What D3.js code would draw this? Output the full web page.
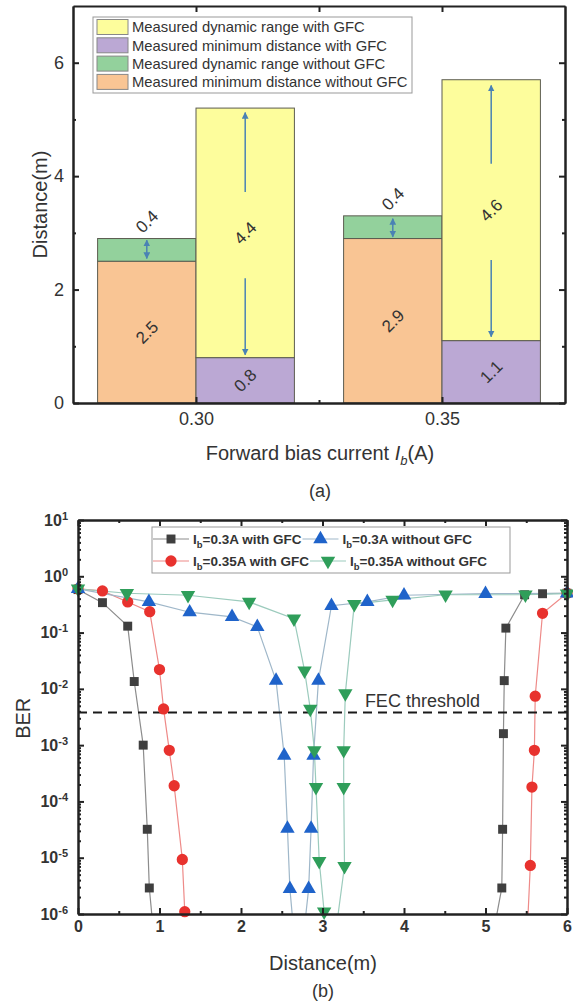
<!DOCTYPE html>
<html lang="en">
<head>
    <meta charset="UTF-8">
    <title>GFC distance and BER</title>
    <script src="https://cdnjs.cloudflare.com/ajax/libs/d3/7.8.5/d3.min.js"></script>
    <style>
        body { margin: 0; background: #fff; }
        svg { display: block; font-family: Arial, "Liberation Sans", sans-serif; }
    </style>
</head>
<body>
<svg id="chart" width="573" height="1003"></svg>

<script>
    // ---- (a) measured distances ----
    const currents = [0.30, 0.35];
    const currentTicks = ["0.30", "0.35"];
    const minDistNoGfc = [2.5, 2.9];
    const rangeNoGfc = [0.4, 0.4];
    const minDistGfc = [0.8, 1.1];
    const rangeGfc = [4.4, 4.6];
    const barLegend = [
        "Measured dynamic range with GFC",
        "Measured minimum distance with GFC",
        "Measured dynamic range without GFC",
        "Measured minimum distance without GFC"
    ];
    const barColors = ["#fdfd9c", "#bba8d4", "#93d19c", "#f9c594"];
    // arrow spans [from, to] in metres
    const arrowsNoGfc = [[2.55, 2.87], [2.93, 3.25]];
    const arrowsGfcUp = [[3.72, 5.12], [4.22, 5.6]];
    const arrowsGfcDown = [[2.2, 0.85], [2.52, 1.17]];

    // ---- (b) BER vs distance, [distance, BER]; 1e-7 = below axis (error free) ----
    const berLabels = ["=0.3A with GFC", "=0.3A without GFC", "=0.35A with GFC", "=0.35A without GFC"];
    const ber03Gfc = [[0, 0.58], [0.30, 0.34], [0.61, 0.13], [0.69, 0.0135], [0.80, 1e-3], [0.85, 3.2e-5],
        [0.875, 2.9e-6], [0.97, 1e-7], [5.01, 1e-7], [5.2, 2.9e-6], [5.21, 3.2e-5], [5.22, 1.6e-3],
        [5.23, 0.014], [5.25, 0.12], [5.48, 0.47], [5.70, 0.49], [6.0, 0.5]];
    const ber035Gfc = [[0, 0.6], [0.30, 0.55], [0.61, 0.35], [0.88, 0.235], [1.0, 0.022], [1.05, 4.4e-3],
        [1.12, 8.1e-4], [1.18, 1.9e-4], [1.28, 9.3e-6], [1.31, 1.1e-6], [1.33, 1e-7], [5.49, 1e-7],
        [5.55, 7.3e-6], [5.57, 1.8e-4], [5.6, 8.1e-4], [5.61, 7.4e-3], [5.70, 0.22], [6.0, 0.5]];
    const ber03NoGfc = [[0, 0.6], [0.87, 0.35], [1.37, 0.23], [1.89, 0.19], [2.20, 0.126], [2.43, 0.014],
        [2.53, 6.5e-4], [2.57, 3.3e-5], [2.60, 2.8e-6], [2.69, 1e-7], [2.72, 1e-7], [2.83, 2.8e-6],
        [2.86, 3.3e-5], [2.89, 6.5e-4], [2.95, 0.014], [3.11, 0.3], [3.55, 0.35], [4.0, 0.46],
        [5.0, 0.49], [6.0, 0.5]];
    const ber035NoGfc = [[0, 0.6], [0.60, 0.5], [1.35, 0.46], [2.10, 0.35], [2.65, 0.177], [2.78, 0.021],
        [2.85, 4.4e-3], [2.90, 8.1e-4], [2.92, 1.8e-4], [2.96, 8.7e-6], [3.02, 1.1e-6], [3.05, 1e-7],
        [3.10, 1e-7], [3.27, 7.1e-6], [3.26, 1.8e-4], [3.26, 8.1e-4], [3.28, 8.3e-3], [3.39, 0.32],
        [3.86, 0.38], [4.51, 0.47], [5.49, 0.47], [6.0, 0.49]];
    const fecThreshold = 3.8e-3;

    const svg = d3.select("#chart");
    const textColor = "#333";
    const arrowColor = "#4a82b4";

    svg.append("defs").append("marker")
        .attr("id", "head")
        .attr("viewBox", "0 0 10 10")
        .attr("refX", 9).attr("refY", 5)
        .attr("markerWidth", 4.5).attr("markerHeight", 4.5)
        .attr("orient", "auto-start-reverse")
        .append("path")
        .attr("d", "M0,0 L10,5 L0,10 z")
        .attr("fill", arrowColor);

    // ================= (a) =================
    const xA = d3.scaleLinear().domain([0.275, 0.375]).range([73, 565]);
    const yA = d3.scaleLinear().domain([0, 7]).range([403, 6]);
    const barW = 0.02;

    const topChart = svg.append("g");

    const stacks = [];
    currents.forEach((c, i) => {
        stacks.push({x0: c - barW, y0: 0, y1: minDistNoGfc[i], color: barColors[3]});
        stacks.push({x0: c - barW, y0: minDistNoGfc[i], y1: minDistNoGfc[i] + rangeNoGfc[i], color: barColors[2]});
        stacks.push({x0: c, y0: 0, y1: minDistGfc[i], color: barColors[1]});
        stacks.push({x0: c, y0: minDistGfc[i], y1: minDistGfc[i] + rangeGfc[i], color: barColors[0]});
    });

    topChart.selectAll("rect.bar")
        .data(stacks)
        .enter()
        .append("rect")
        .attr("class", "bar")
        .attr("x", d => xA(d.x0))
        .attr("width", xA(barW) - xA(0))
        .attr("y", d => yA(d.y1))
        .attr("height", d => yA(d.y0) - yA(d.y1))
        .attr("fill", d => d.color)
        .attr("stroke", "#5c5c50")
        .attr("stroke-width", 1);

    // rotated value labels
    const valueLabels = [];
    currents.forEach((c, i) => {
        valueLabels.push({x: c - barW / 2, y: minDistNoGfc[i] / 2, t: minDistNoGfc[i]});
        valueLabels.push({x: c - barW / 2, y: minDistNoGfc[i] + rangeNoGfc[i] + 0.3, t: rangeNoGfc[i]});
        valueLabels.push({x: c + barW / 2, y: minDistGfc[i] / 2, t: minDistGfc[i]});
        valueLabels.push({x: c + barW / 2, y: minDistGfc[i] + rangeGfc[i] / 2, t: rangeGfc[i]});
    });

    topChart.selectAll("text.val")
        .data(valueLabels)
        .enter()
        .append("text")
        .attr("class", "val")
        .attr("transform", d => `translate(${xA(d.x)},${yA(d.y)}) rotate(-45)`)
        .attr("text-anchor", "middle")
        .attr("dy", "0.35em")
        .attr("font-size", 17)
        .attr("fill", textColor)
        .text(d => d.t);

    // arrows
    const arrowData = [];
    currents.forEach((c, i) => {
        arrowData.push({x: c - barW / 2, from: arrowsNoGfc[i][0], to: arrowsNoGfc[i][1], both: true});
        arrowData.push({x: c + barW / 2, from: arrowsGfcUp[i][0], to: arrowsGfcUp[i][1], both: false});
        arrowData.push({x: c + barW / 2, from: arrowsGfcDown[i][0], to: arrowsGfcDown[i][1], both: false});
    });

    topChart.selectAll("line.arrow")
        .data(arrowData)
        .enter()
        .append("line")
        .attr("class", "arrow")
        .attr("x1", d => xA(d.x)).attr("x2", d => xA(d.x))
        .attr("y1", d => yA(d.from)).attr("y2", d => yA(d.to))
        .attr("stroke", arrowColor)
        .attr("stroke-width", 1.5)
        .attr("marker-end", "url(#head)")
        .attr("marker-start", d => d.both ? "url(#head)" : null);

    // axes, ticks pointing in
    topChart.append("g")
        .attr("transform", `translate(0,${yA(0)})`)
        .call(d3.axisBottom(xA).tickValues(currents).tickFormat((d, i) => currentTicks[i])
            .tickSizeInner(-6).tickSizeOuter(0).tickPadding(9))
        .call(g => g.append("g").call(d3.axisBottom(xA).tickValues([0.325]).tickFormat("").tickSizeInner(-3).tickSizeOuter(0)));
    topChart.append("g")
        .attr("transform", `translate(0,${yA(7)})`)
        .call(d3.axisTop(xA).tickValues([0.30, 0.325, 0.35]).tickFormat("").tickSizeInner(-6).tickSizeOuter(0));
    topChart.append("g")
        .attr("transform", `translate(${xA(0.275)},0)`)
        .call(d3.axisLeft(yA).tickValues([0, 2, 4, 6]).tickFormat(d3.format("d"))
            .tickSizeInner(-6).tickSizeOuter(0).tickPadding(9))
        .call(g => g.append("g").call(d3.axisLeft(yA).tickValues([1, 3, 5]).tickFormat("").tickSizeInner(-3).tickSizeOuter(0)));
    topChart.append("g")
        .attr("transform", `translate(${xA(0.375)},0)`)
        .call(d3.axisRight(yA).tickValues([0, 2, 4, 6]).tickFormat("").tickSizeInner(-6).tickSizeOuter(0))
        .call(g => g.append("g").call(d3.axisRight(yA).tickValues([1, 3, 5]).tickFormat("").tickSizeInner(-3).tickSizeOuter(0)));

    topChart.selectAll(".domain, .tick line").attr("stroke", "#222").attr("stroke-width", 2);
    topChart.selectAll(".tick text").attr("font-size", 18).attr("fill", textColor).attr("font-family", "Arial, Liberation Sans, sans-serif");

    // legend (a)
    const legA = topChart.append("g");
    legA.append("rect")
        .attr("x", 93).attr("y", 17).attr("width", 319).attr("height", 76)
        .attr("fill", "#fff").attr("stroke", "#999");
    const legARows = legA.selectAll("g.row")
        .data(barLegend)
        .enter()
        .append("g")
        .attr("class", "row")
        .attr("transform", (d, i) => `translate(97,${27 + i * 18.3})`);
    legARows.append("rect")
        .attr("x", 0).attr("y", -7.5).attr("width", 31).attr("height", 15)
        .attr("fill", (d, i) => barColors[i]).attr("stroke", "#888");
    legARows.append("text")
        .attr("x", 35).attr("dy", "0.36em")
        .attr("font-size", 14.8)
        .attr("fill", textColor)
        .text(d => d);

    topChart.append("text")
        .attr("transform", `translate(40,${yA(3.5)}) rotate(-90)`)
        .attr("text-anchor", "middle").attr("dy", "0.35em")
        .attr("font-size", 20).attr("fill", textColor)
        .text("Distance(m)");
    const xTitleA = topChart.append("text")
        .attr("x", 320).attr("y", 460)
        .attr("text-anchor", "middle")
        .attr("font-size", 20).attr("fill", textColor);
    xTitleA.append("tspan").text("Forward bias current ");
    xTitleA.append("tspan").attr("font-style", "italic").text("I");
    xTitleA.append("tspan").attr("font-style", "italic").attr("font-size", 13).attr("dy", 5).text("b");
    xTitleA.append("tspan").attr("dy", -5).text("(A)");
    topChart.append("text")
        .attr("x", 320).attr("y", 497)
        .attr("text-anchor", "middle")
        .attr("font-size", 18).attr("fill", textColor)
        .text("(a)");

    // ================= (b) =================
    const xB = d3.scaleLinear().domain([0, 6]).range([78, 567]);
    const yB = d3.scaleLog().domain([1e-6, 10]).range([914, 520]);
    const bottomChart = svg.append("g");

    const seriesB = [
        {data: ber03Gfc, line: "#8c8c8c", fill: "#3f3f3f", symbol: d3.symbolSquare, size: 80, rot: 0, label: berLabels[0]},
        {data: ber035Gfc, line: "#ee8a88", fill: "#e8322e", symbol: d3.symbolCircle, size: 100, rot: 0, label: berLabels[2]},
        {data: ber03NoGfc, line: "#9fb7c9", fill: "#1f63ca", symbol: d3.symbolTriangle, size: 90, rot: 0, label: berLabels[1]},
        {data: ber035NoGfc, line: "#9ccbbd", fill: "#2f9e5a", symbol: d3.symbolTriangle, size: 90, rot: 180, label: berLabels[3]}
    ];

    bottomChart.append("clipPath").attr("id", "plotB")
        .append("rect")
        .attr("x", xB(0)).attr("y", yB(10))
        .attr("width", xB(6) - xB(0)).attr("height", yB(1e-6) - yB(10));

    const lineB = d3.line().x(d => xB(d[0])).y(d => yB(d[1]));

    bottomChart.append("g").attr("clip-path", "url(#plotB)")
        .selectAll("path.series")
        .data(seriesB)
        .enter()
        .append("path")
        .attr("class", "series")
        .attr("d", s => lineB(s.data))
        .attr("fill", "none")
        .attr("stroke", s => s.line)
        .attr("stroke-width", 1.2);

    // FEC threshold
    bottomChart.append("line")
        .attr("x1", xB(0)).attr("x2", xB(6))
        .attr("y1", yB(fecThreshold)).attr("y2", yB(fecThreshold))
        .attr("stroke", "#1a1a1a").attr("stroke-width", 2.2)
        .attr("stroke-dasharray", "9,6");
    bottomChart.append("text")
        .attr("x", xB(3.52)).attr("y", yB(fecThreshold) - 6)
        .attr("font-size", 18).attr("fill", textColor)
        .text("FEC threshold");

    seriesB.forEach(s => {
        bottomChart.append("g")
            .selectAll("path.mk")
            .data(s.data.filter(d => d[1] >= 1e-6))
            .enter()
            .append("path")
            .attr("class", "mk")
            .attr("d", d3.symbol().type(s.symbol).size(s.size))
            .attr("transform", d => `translate(${xB(d[0])},${yB(d[1])}) rotate(${s.rot})`)
            .attr("fill", s.fill);
    });

    const decades = d3.range(-6, 2).map(e => Math.pow(10, e));
    const minorY = [];
    d3.range(-6, 1).forEach(e => d3.range(2, 10).forEach(m => minorY.push(m * Math.pow(10, e))));
    const supFormat = (g) => g.selectAll(".tick text").each(function (d) {
        const t = d3.select(this).text("10");
        t.append("tspan").attr("dy", "-0.55em").attr("font-size", 11).text(Math.round(Math.log10(d)));
    });

    bottomChart.append("g")
        .attr("transform", `translate(0,${yB(1e-6)})`)
        .call(d3.axisBottom(xB).ticks(6).tickFormat(d3.format("d")).tickSizeInner(-6).tickSizeOuter(0).tickPadding(7))
        .call(g => g.append("g").call(d3.axisBottom(xB).tickValues(d3.range(0.5, 6, 1)).tickFormat("").tickSizeInner(-3).tickSizeOuter(0)));
    bottomChart.append("g")
        .attr("transform", `translate(0,${yB(10)})`)
        .call(d3.axisTop(xB).ticks(6).tickFormat("").tickSizeInner(-6).tickSizeOuter(0))
        .call(g => g.append("g").call(d3.axisTop(xB).tickValues(d3.range(0.5, 6, 1)).tickFormat("").tickSizeInner(-3).tickSizeOuter(0)));
    bottomChart.append("g")
        .attr("transform", `translate(${xB(0)},0)`)
        .call(d3.axisLeft(yB).tickValues(decades).tickSizeInner(-6).tickSizeOuter(0).tickPadding(10))
        .call(supFormat)
        .call(g => g.append("g").call(d3.axisLeft(yB).tickValues(minorY).tickFormat("").tickSizeInner(-3).tickSizeOuter(0)));
    bottomChart.append("g")
        .attr("transform", `translate(${xB(6)},0)`)
        .call(d3.axisRight(yB).tickValues(decades).tickFormat("").tickSizeInner(-6).tickSizeOuter(0))
        .call(g => g.append("g").call(d3.axisRight(yB).tickValues(minorY).tickFormat("").tickSizeInner(-3).tickSizeOuter(0)));

    bottomChart.selectAll(".domain, .tick line").attr("stroke", "#222").attr("stroke-width", 2);
    bottomChart.selectAll(".tick text")
        .attr("font-size", 16).attr("font-weight", "bold")
        .attr("fill", "#333").attr("font-family", "Arial, Liberation Sans, sans-serif");

    // legend (b)
    const legB = bottomChart.append("g");
    legB.append("rect")
        .attr("x", 152).attr("y", 527).attr("width", 358).attr("height", 46)
        .attr("fill", "#fff").attr("stroke", "#999");
    const legendOrder = [[seriesB[0], seriesB[2]], [seriesB[1], seriesB[3]]];
    legendOrder.forEach((row, r) => {
        let x0 = 153;
        const yRow = 539 + r * 22;
        row.forEach(s => {
            const item = legB.append("g");
            item.append("line")
                .attr("x1", x0).attr("x2", x0 + 36)
                .attr("y1", yRow).attr("y2", yRow)
                .attr("stroke", s.line).attr("stroke-width", 1.2);
            item.append("path")
                .attr("d", d3.symbol().type(s.symbol).size(s.size))
                .attr("transform", `translate(${x0 + 18},${yRow}) rotate(${s.rot})`)
                .attr("fill", s.fill);
            const t = item.append("text")
                .attr("x", x0 + 40).attr("y", yRow).attr("dy", "0.36em")
                .attr("font-size", 13.5).attr("font-weight", "bold").attr("fill", "#333");
            t.append("tspan").text("I");
            t.append("tspan").attr("font-size", 9.5).attr("dy", 4).text("b");
            t.append("tspan").attr("dy", -4).text(s.label);
            x0 = x0 + 40 + t.node().getComputedTextLength() + 1;
        });
    });

    bottomChart.append("text")
        .attr("transform", `translate(23,${yB(3e-3)}) rotate(-90)`)
        .attr("text-anchor", "middle").attr("dy", "0.35em")
        .attr("font-size", 20).attr("fill", textColor)
        .text("BER");
    bottomChart.append("text")
        .attr("x", 323).attr("y", 970)
        .attr("text-anchor", "middle")
        .attr("font-size", 20).attr("fill", textColor)
        .text("Distance(m)");
    bottomChart.append("text")
        .attr("x", 323).attr("y", 997)
        .attr("text-anchor", "middle")
        .attr("font-size", 18).attr("fill", textColor)
        .text("(b)");
</script>
</body>
</html>
